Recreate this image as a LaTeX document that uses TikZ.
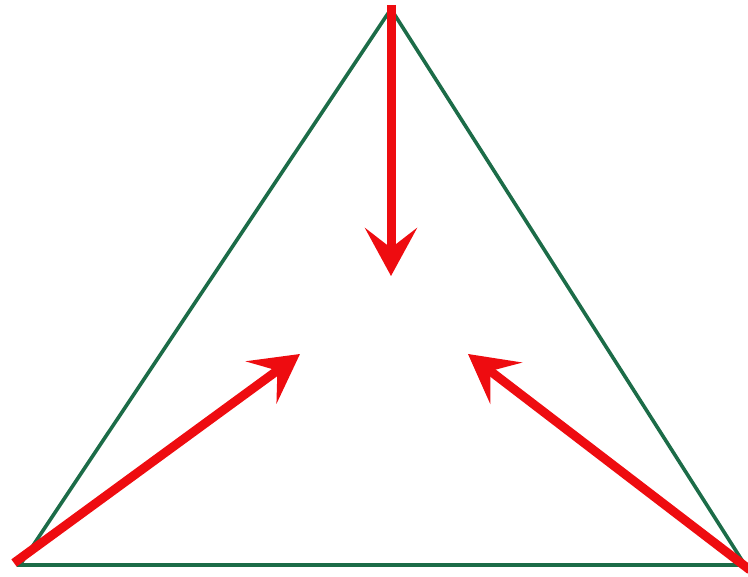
\documentclass[tikz,border=0pt]{standalone}
\usetikzlibrary{arrows.meta}
\definecolor{edgegreen}{RGB}{28,108,72}
\definecolor{pushred}{RGB}{238,12,16}
\begin{document}
\begin{tikzpicture}[x=1pt, y=-1pt,
  %% Triangle outline
  edge/.style={draw=edgegreen, line width=3.6pt, line join=miter},
  %% Red inward arrows
  push/.style={draw=pushred, line width=9pt,
               -{Stealth[length=48pt, width=52pt, inset=20pt]}}
]
\useasboundingbox (0,0) rectangle (748,577);

%% ── Corners of the triangle ─────────────────────────────────────────────
\coordinate (apex)  at (391,9);
\coordinate (left)  at (20,565);
\coordinate (right) at (745,565);

%% ── Where the arrows stop (around the centre) ───────────────────────────
\coordinate (tipA) at (391,276);
\coordinate (tipB) at (300,354);
\coordinate (tipC) at (468,354);

%% ── Arrow tails ─────────────────────────────────────────────────────────
\coordinate (tailA) at (391,5);
\coordinate (tailB) at (14,563);
\coordinate (tailC) at (750,570);

\draw[edge] (apex) -- (right) -- (left) -- cycle;

%% Three arrows, each from a corner towards the middle
\draw[push] (tailA) -- (tipA);
\draw[push] (tailB) -- (tipB);
\draw[push] (tailC) -- (tipC);

\end{tikzpicture}
\end{document}
